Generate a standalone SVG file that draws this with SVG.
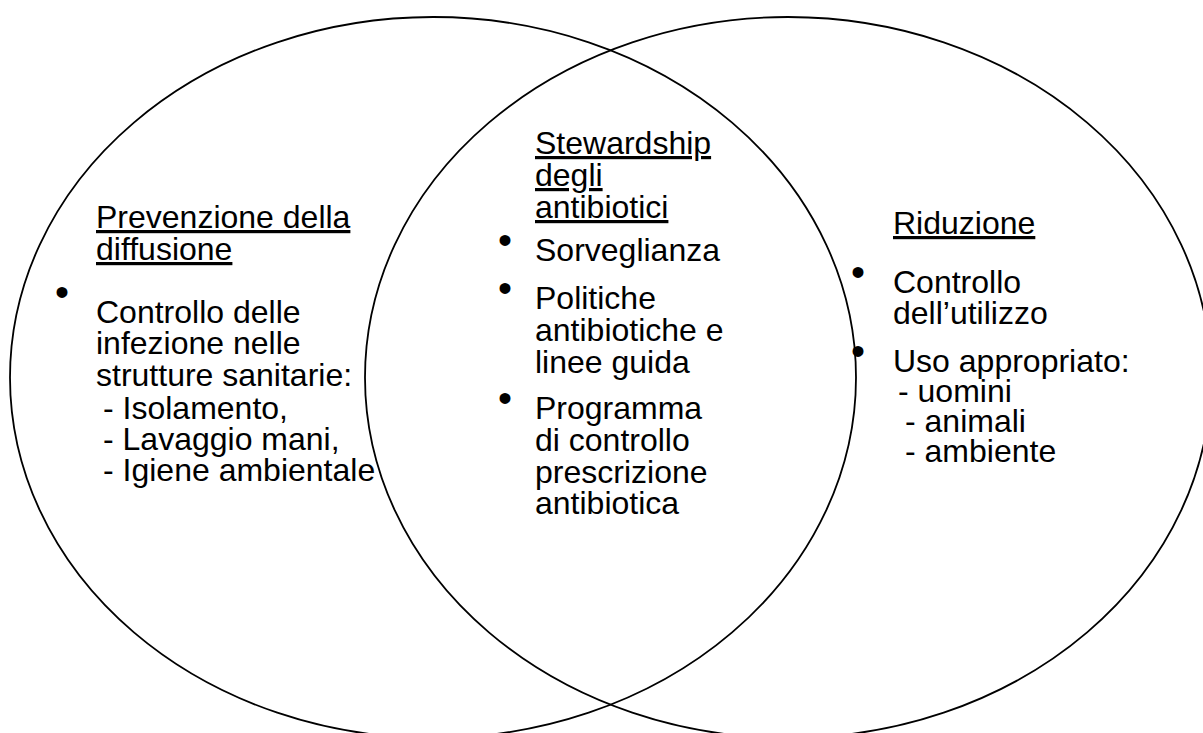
<svg xmlns="http://www.w3.org/2000/svg" width="1203" height="733" viewBox="0 0 1203 733">
  <style>
    .ring { fill: none; stroke: #000; stroke-width: 1.8; }
    text { font-family: "Liberation Sans", Arial, sans-serif; font-size: 32px; fill: #000; }
    .head { text-decoration: underline; }
    .dot { font-size: 40px; }
  </style>
  <rect width="1203" height="733" fill="#fff"/>

  <!-- two overlapping sets -->
  <g id="set-left">
    <ellipse class="ring" cx="433" cy="377.5" rx="423" ry="360.5"/>
  </g>
  <g id="set-right">
    <ellipse class="ring" cx="788" cy="377.5" rx="423" ry="360.5"/>
  </g>

  <!-- left region: spread prevention -->
  <g id="prevenzione">
    <text class="head" x="96" y="228">Prevenzione della</text>
    <text class="head" x="96" y="260">diffusione</text>
    <text class="dot" x="55" y="306">•</text>
    <text x="96" y="323">Controllo delle</text>
    <text x="96" y="354">infezione nelle</text>
    <text x="96" y="386">strutture sanitarie:</text>
    <text x="103" y="419">- Isolamento,</text>
    <text x="103" y="450">- Lavaggio mani,</text>
    <text x="103" y="481">- Igiene ambientale</text>
  </g>

  <!-- overlap: stewardship -->
  <g id="stewardship">
    <text class="head" x="535" y="154">Stewardship</text>
    <text class="head" x="535" y="186">degli</text>
    <text class="head" x="535" y="218">antibiotici</text>
    <text class="dot" x="498" y="254">•</text>
    <text x="535" y="261">Sorveglianza</text>
    <text class="dot" x="498" y="302">•</text>
    <text x="535" y="309">Politiche</text>
    <text x="535" y="341">antibiotiche e</text>
    <text x="535" y="373">linee guida</text>
    <text class="dot" x="498" y="412">•</text>
    <text x="535" y="419">Programma</text>
    <text x="535" y="451">di controllo</text>
    <text x="535" y="483">prescrizione</text>
    <text x="535" y="514">antibiotica</text>
  </g>

  <!-- right region: reduction -->
  <g id="riduzione">
    <text class="head" x="893" y="234">Riduzione</text>
    <text class="dot" x="851" y="286">•</text>
    <text x="893" y="293">Controllo</text>
    <text x="893" y="324">dell’utilizzo</text>
    <text class="dot" x="851" y="365">•</text>
    <text x="893" y="372">Uso appropriato:</text>
    <text x="898" y="402">- uomini</text>
    <text x="905" y="432">- animali</text>
    <text x="905" y="462">- ambiente</text>
  </g>
</svg>
